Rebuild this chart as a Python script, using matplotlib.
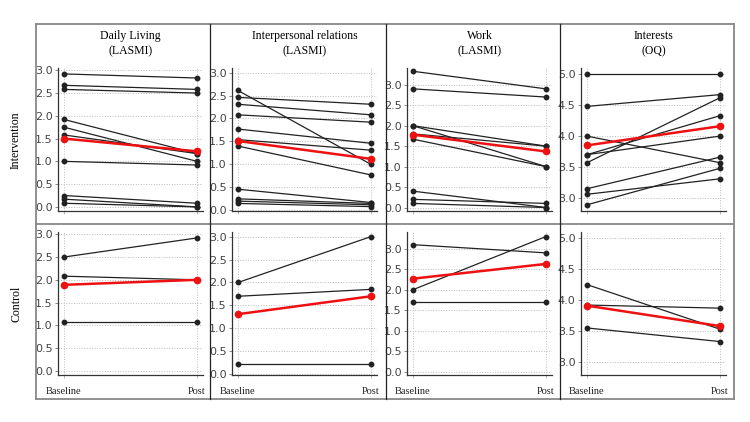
import matplotlib
matplotlib.use("Agg")
import matplotlib.pyplot as plt
from matplotlib.lines import Line2D

# columnas: titulos y escalas
titulos = ["Daily Living\n(LASMI)", "Interpersonal relations\n(LASMI)", "Work\n(LASMI)", "Interests\n(OQ)"]
filas = ["Intervention", "Control"]
momentos = ["Baseline", "Post"]

# Daily Living
daily_int_base = [2.92, 2.67, 2.58, 1.92, 1.75, 1.58, 1.00, 0.25, 0.17, 0.08]
daily_int_post = [2.83, 2.58, 2.50, 1.17, 1.00, 1.17, 0.92, 0.08, 0.00, 0.00]
daily_ctl_base = [2.50, 2.08, 1.08]
daily_ctl_post = [2.92, 2.00, 1.08]
daily_media_int = [1.50, 1.22]
daily_media_ctl = [1.89, 2.00]

# Interpersonal relations
inter_int_base = [2.61, 2.46, 2.31, 2.08, 1.77, 1.54, 1.40, 0.46, 0.25, 0.20, 0.15]
inter_int_post = [1.00, 2.31, 2.08, 1.92, 1.46, 1.31, 0.77, 0.17, 0.15, 0.12, 0.08]
inter_ctl_base = [2.00, 1.70, 0.23]
inter_ctl_post = [3.00, 1.85, 0.23]
inter_media_int = [1.51, 1.12]
inter_media_ctl = [1.31, 1.70]

# Work
work_int_base = [3.33, 2.90, 2.00, 2.00, 1.80, 1.67, 0.40, 0.20, 0.10]
work_int_post = [2.90, 2.70, 1.50, 1.00, 1.50, 1.00, 0.00, 0.10, 0.00]
work_ctl_base = [3.10, 2.00, 1.70]
work_ctl_post = [2.90, 3.30, 1.70]
work_media_int = [1.78, 1.37]
work_media_ctl = [2.27, 2.63]

# Interests
ocio_int_base = [5.00, 4.48, 4.00, 3.70, 3.70, 3.57, 3.15, 3.06, 2.89]
ocio_int_post = [5.00, 4.67, 3.57, 4.33, 4.00, 4.62, 3.66, 3.31, 3.48]
ocio_ctl_base = [4.25, 3.92, 3.55]
ocio_ctl_post = [3.53, 3.87, 3.33]
ocio_media_int = [3.85, 4.16]
ocio_media_ctl = [3.91, 3.58]

datos = [
    [(daily_int_base, daily_int_post, daily_media_int), (daily_ctl_base, daily_ctl_post, daily_media_ctl)],
    [(inter_int_base, inter_int_post, inter_media_int), (inter_ctl_base, inter_ctl_post, inter_media_ctl)],
    [(work_int_base, work_int_post, work_media_int), (work_ctl_base, work_ctl_post, work_media_ctl)],
    [(ocio_int_base, ocio_int_post, ocio_media_int), (ocio_ctl_base, ocio_ctl_post, ocio_media_ctl)],
]
limites = [(-0.09, 3.05), (-0.015, 3.1), (-0.085, 3.41), (2.79, 5.1)]
ticks_y = [[0, 0.5, 1, 1.5, 2, 2.5, 3]] * 3 + [[3, 3.5, 4, 4.5, 5]]

W, H = 750, 422
fig = plt.figure(figsize=(7.5, 4.22), dpi=100)

serif = ["Liberation Serif", "DejaVu Serif"]
col_left = [58, 232, 407, 581]
fila_top = [68, 232]
ancho, alto = 145, 143

for c in range(4):
    for r in range(2):
        base, post, media = datos[c][r]
        ax = fig.add_axes([col_left[c] / W, 1 - (fila_top[r] + alto) / H, ancho / W, alto / H])
        for b, p in zip(base, post):
            ax.plot([0, 1], [b, p], color="#222222", lw=0.9, marker="o", ms=3.2, zorder=3)
        ax.plot([0, 1], media, color="#ee1111", lw=1.8, marker="o", ms=4.5, zorder=4)
        ax.set_xlim(-0.045, 1.045)
        ax.set_ylim(*limites[c])
        ax.set_yticks(ticks_y[c])
        ax.set_yticklabels([f"{t:.1f}" for t in ticks_y[c]])
        ax.set_xticks([0, 1])
        if r == 1:
            ax.set_xticklabels(momentos, family=serif, fontsize=7.5, color="#222222")
        else:
            ax.set_xticklabels([])
        ax.tick_params(axis="y", labelsize=8, labelcolor="#444444", length=2.5, width=0.6, color="#777777", pad=1.5)
        ax.tick_params(axis="x", length=2.5, width=0.6, color="#aaaaaa", pad=6)
        ax.grid(True, linestyle=":", color="#bbbbbb", lw=0.7)
        ax.set_axisbelow(True)
        for s in ["top", "right"]:
            ax.spines[s].set_visible(False)
        for s in ["left", "bottom"]:
            ax.spines[s].set_color("#333333")
            ax.spines[s].set_linewidth(0.9)
        if r == 0:
            ax.set_title(titulos[c], family=serif, fontsize=8.5, pad=10, linespacing=1.3)

# etiquetas de fila
fig.text(16 / W, 1 - 140 / H, filas[0], rotation=90, ha="center", va="center", family=serif, fontsize=8.5)
fig.text(16 / W, 1 - 304 / H, filas[1], rotation=90, ha="center", va="center", family=serif, fontsize=8.5)

# marco de la tabla
def linea(x0, y0, x1, y1, color, lw):
    fig.add_artist(Line2D([x0 / W, x1 / W], [1 - y0 / H, 1 - y1 / H], color=color, lw=lw,
                          transform=fig.transFigure))

for x in [36, 734]:
    linea(x, 24, x, 399, "#888888", 1.3)
for y in [24, 224, 399]:
    linea(36, y, 734, y, "#888888", 1.3)
for x in [210, 386, 560]:
    linea(x, 24, x, 399, "#222222", 0.9)

plt.savefig("out.png", dpi=100)
